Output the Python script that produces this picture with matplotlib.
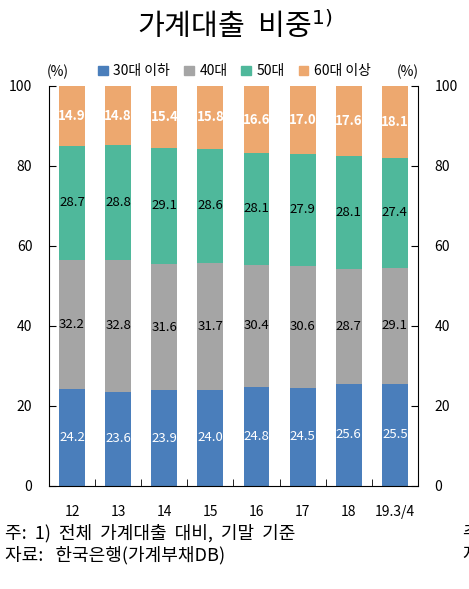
import numpy as np
import matplotlib.pyplot as plt
from matplotlib.patches import Patch

plt.rcParams['font.family'] = ['Noto Sans CJK KR', 'DejaVu Sans']

years = ['12', '13', '14', '15', '16', '17', '18', '19.3/4']
age30 = [24.2, 23.6, 23.9, 24.0, 24.8, 24.5, 25.6, 25.5]
age40 = [32.2, 32.8, 31.6, 31.7, 30.4, 30.6, 28.7, 29.1]
age50 = [28.7, 28.8, 29.1, 28.6, 28.1, 27.9, 28.1, 27.4]
age60 = [14.9, 14.8, 15.4, 15.8, 16.6, 17.0, 17.6, 18.1]
names = ['30대 이하', '40대', '50대', '60대 이상']
colors = ['#4a7ebb', '#a5a5a5', '#4fb89b', '#eda86f']
txtcol = ['white', 'black', 'black', 'white']

fig = plt.figure(figsize=(4.69, 5.89), dpi=100)
ax = fig.add_axes([0.1045, 0.175, 0.7865, 0.679])

x = np.arange(len(years))
bottom = np.zeros(len(years))
for i, vals in enumerate([age30, age40, age50, age60]):
    vals = np.array(vals)
    ax.bar(x, vals, 0.56, bottom=bottom, color=colors[i], edgecolor='none')
    for xi, b, v in zip(x, bottom, vals):
        ax.text(xi, b + v / 2, f'{v:.1f}', ha='center', va='center',
                color=txtcol[i], fontsize=9.5,
                fontweight='bold' if i == 3 else 'normal')
    bottom += vals

ax.set_xlim(-0.5, len(years) - 0.5)
ax.set_ylim(0, 100)
ax.set_yticks(range(0, 101, 20))
ax.spines['top'].set_visible(False)
ax.spines['right'].set_visible(True)
ax.tick_params(axis='y', direction='in', length=5, labelsize=10, pad=12,
               left=True, right=True, labelleft=True, labelright=True)
ax.set_xticks(x)
ax.set_xticklabels(years, fontsize=10)
ax.tick_params(axis='x', which='major', length=0, pad=14)
ax.set_xticks(np.arange(0.5, len(years) - 0.5, 1), minor=True)
ax.tick_params(axis='x', which='minor', direction='in', length=5)

fig.text(0.5, 0.955, '가계대출  비중$^{1)}$', ha='center', va='center', fontsize=21)
fig.text(0.124, 0.878, '(%)', ha='center', va='center', fontsize=10)
fig.text(0.87, 0.878, '(%)', ha='center', va='center', fontsize=10)

handles = [Patch(color=c, label=n) for c, n in zip(colors, names)]
fig.legend(handles=handles, loc='center', bbox_to_anchor=(0.5, 0.879), ncol=4,
           frameon=False, fontsize=10, handlelength=0.7, handleheight=0.7,
           handletextpad=0.4, columnspacing=1.0)

fig.text(0.01, 0.094, '주:  1)  전체  가계대출  대비,  기말  기준', ha='left', va='center', fontsize=13)
fig.text(0.01, 0.057, '자료:   한국은행(가계부채DB)', ha='left', va='center', fontsize=13)
fig.text(0.985, 0.094, '주', ha='left', va='center', fontsize=13)
fig.text(0.985, 0.057, '자', ha='left', va='center', fontsize=13)

fig.savefig('out.png', dpi=100)
